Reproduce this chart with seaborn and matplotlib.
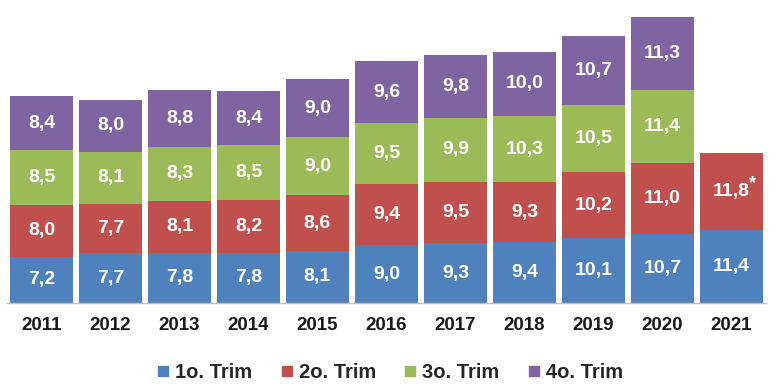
import numpy as np
import pandas as pd
import seaborn as sns
from matplotlib import pyplot as plt
from matplotlib.lines import Line2D

years = ['2011', '2012', '2013', '2014', '2015', '2016', '2017', '2018', '2019', '2020', '2021']
q1 = [7.2, 7.7, 7.8, 7.8, 8.1, 9.0, 9.3, 9.4, 10.1, 10.7, 11.4]
q2 = [8.0, 7.7, 8.1, 8.2, 8.6, 9.4, 9.5, 9.3, 10.2, 11.0, 11.8]
q3 = [8.5, 8.1, 8.3, 8.5, 9.0, 9.5, 9.9, 10.3, 10.5, 11.4, np.nan]
q4 = [8.4, 8.0, 8.8, 8.4, 9.0, 9.6, 9.8, 10.0, 10.7, 11.3, np.nan]
series = ['1o. Trim', '2o. Trim', '3o. Trim', '4o. Trim']
colors = ['#4F81BD', '#C0504D', '#9BBB59', '#8064A2']

df = pd.DataFrame({'Ano': years, series[0]: q1, series[1]: q2, series[2]: q3, series[3]: q4})
cum = df[series].fillna(0).cumsum(axis=1)
cum['Ano'] = df['Ano']

sns.set_style('white')
plt.rcParams['font.family'] = ['Liberation Sans', 'DejaVu Sans']

fig = plt.figure(figsize=(7.8, 3.92), dpi=100)
ax = fig.add_axes([0.009, 0.227, 0.973, 0.730])

# empilhado: desenha do acumulado maior para o menor
for s, c in reversed(list(zip(series, colors))):
    sns.barplot(data=cum, x='Ano', y=s, color=c, width=0.91, ax=ax,
                saturation=1, edgecolor='none', linewidth=0)

# rotulos
for i, yr in enumerate(years):
    base = 0
    for s in series:
        v = df.loc[i, s]
        if pd.isna(v):
            continue
        txt = f'{v:.1f}'.replace('.', ',')
        ax.text(i, base + v / 2, txt, ha='center', va='center', color='white',
                fontsize=14, fontweight='bold')
        if yr == '2021' and s == series[1]:
            ax.text(i + 0.31, base + v / 2 + 1.3, '*', ha='center', va='center',
                    color='white', fontsize=13, fontweight='bold')
        base += v

ax.set_xlim(-0.5, len(years) - 0.5)
ax.set_ylim(0, cum[series[-1]].max())
ax.set_xlabel('')
ax.set_ylabel('')
ax.set_yticks([])
for sp in ['top', 'right', 'left']:
    ax.spines[sp].set_visible(False)
ax.spines['bottom'].set_color('#BFBFBF')
ax.spines['bottom'].set_linewidth(1)
ax.tick_params(axis='x', length=0, pad=10)
for lab in ax.get_xticklabels():
    lab.set_fontsize(13.5)
    lab.set_fontweight('bold')
    lab.set_color('#1A1A1A')

handles = [Line2D([], [], marker='s', linestyle='none', markersize=7,
                  markerfacecolor=c, markeredgecolor=c) for c in colors]
fig.legend(handles, series, loc='center', bbox_to_anchor=(0.5, 0.05), ncol=4,
           frameon=False, prop={'size': 14.5, 'weight': 'bold'},
           handlelength=0.6, handletextpad=0.3, columnspacing=1.4)

plt.savefig('out.png', dpi=100)
